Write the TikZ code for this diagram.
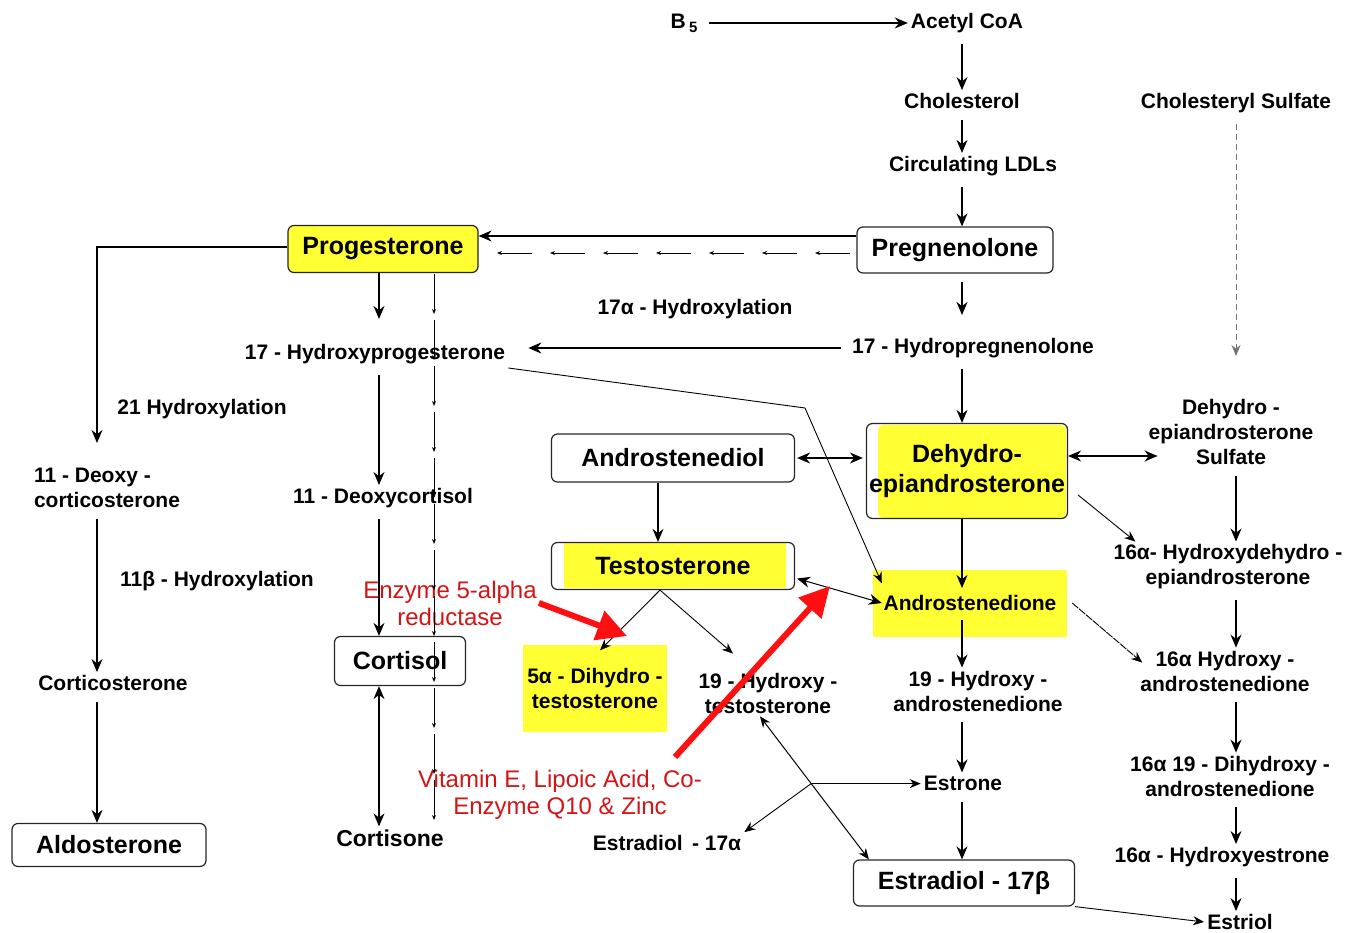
\documentclass[tikz,border=0pt]{standalone}
\usepackage{fontspec}
\setmainfont{Liberation Sans}
\usetikzlibrary{arrows.meta,calc,positioning}

\definecolor{hlyellow}{RGB}{255,255,51}
\definecolor{enzred}{RGB}{210,20,20}
\definecolor{arrred}{RGB}{255,15,15}

\tikzset{
  box/.style={draw=black!85, line width=1.2pt, rounded corners=6pt, inner sep=0pt,
    font=\bfseries\fontsize{25}{30}\selectfont, align=center},
  lbl/.style={font=\bfseries\fontsize{21}{25}\selectfont, inner sep=3pt, align=center},
  arr/.style={-{Stealth[length=13pt,width=11pt]}, line width=1.3pt, shorten <=8pt},
  dblarr/.style={{Stealth[length=13pt,width=11pt]}-{Stealth[length=13pt,width=11pt]}, line width=1.3pt},
  thinarr/.style={-{Stealth[length=11pt,width=9pt]}, line width=0.9pt},
  tinyarr/.style={-{Stealth[length=5pt,width=4pt]}, line width=0.9pt},
  redtxt/.style={text=enzred, font=\fontsize{24}{27}\selectfont, align=center, inner sep=2pt},
  redarr/.style={-{Triangle[length=30pt,width=30pt]}, draw=arrred, line width=6pt}
}

\begin{document}
\begin{tikzpicture}[x=1pt,y=-1pt]
\useasboundingbox (0,0) rectangle (1361,933);
\coordinate (col) at (962,0);
\coordinate (lcol) at (379,0);
\coordinate (fcol) at (97,0);
\coordinate (rcol) at (1236,0);

% yellow backgrounds of the partly filled boxes
\fill[hlyellow] (564,543) rectangle (786,588);
\fill[hlyellow, rounded corners=5pt] (878,425) rectangle (1066,518);

% top chain
\node[lbl] (b5) at (684,23) {B\,\raisebox{-4pt}{\fontsize{15}{15}\selectfont 5}};
\node[lbl] (acetyl) at (967,23) {Acetyl CoA};
\node[lbl] (chol) at (962,101) {Cholesterol};
\node[lbl] (ldl) at (973,166) {Circulating LDLs};
\node[box, minimum width=196pt, minimum height=46pt] (preg) at (955,250) {Pregnenolone};
\node[lbl] (cholsulf) at (1236,103) {Cholesteryl Sulfate};
\coordinate (sulfend) at (1236,356);

% progesterone branch
\node[box, fill=hlyellow, minimum width=190pt, minimum height=47pt] (prog) at (383,249) {Progesterone};
\node[lbl] (hydrox) at (695,309) {17α - Hydroxylation};
\node[lbl] (hpreg) at (973,348) {17 - Hydropregnenolone};
\node[lbl] (ohp) at (375,354) {17 - Hydroxyprogesterone};
\node[lbl] (h21) at (202,409) {21 Hydroxylation};
\node[lbl, align=left] (doc) at (107,488) {11 - Deoxy -\\corticosterone};
\node[lbl] (h11) at (217,581) {11β - Hydroxylation};
\node[lbl] (cortico) at (113,683) {Corticosterone};
\node[box, minimum width=194pt, minimum height=43pt] (aldo) at (109,845) {Aldosterone};
\node[lbl] (deoxycort) at (383,498) {11 - Deoxycortisol};
\node[box, minimum width=131pt, minimum height=49pt] (cortisol) at (400,661) {Cortisol};
\node[lbl, font=\bfseries\fontsize{23}{27}\selectfont] (cortisone) at (390,838) {Cortisone};

% androgens
\node[box, minimum width=243pt, minimum height=48pt] (adiol) at (673,458) {Androstenediol};
\node[box, minimum width=201pt, minimum height=95pt] (dhea) at (967,471) {Dehydro-\\epiandrosterone};
\node[lbl] (dheas) at (1231,432) {Dehydro -\\epiandrosterone\\Sulfate};
\node[box, minimum width=243pt, minimum height=47pt] (testo) at (673,566) {Testosterone};
\node[fill=hlyellow, inner sep=0pt, minimum width=194pt, minimum height=67pt,
  font=\bfseries\fontsize{21}{25}\selectfont] (andione) at (970,603) {Androstenedione};
\node[lbl, fill=hlyellow, minimum width=144pt, minimum height=87pt] (dht) at (595,688) {5α - Dihydro -\\testosterone};
\node[lbl] (ohtesto) at (768,693) {19 - Hydroxy -\\testosterone};
\node[lbl] (ohandione) at (978,691) {19 - Hydroxy -\\androstenedione};

% right column
\node[lbl] (ohdhea) at (1228,567) {16α- Hydroxydehydro -\\epiandrosterone};
\node[lbl] (ohandro) at (1225,671) {16α Hydroxy -\\androstenedione};
\node[lbl] (diohandro) at (1230,776) {16α 19 - Dihydroxy -\\androstenedione};
\node[lbl] (ohestrone) at (1222,857) {16α - Hydroxyestrone};
\node[lbl] (estriol) at (1240,922) {Estriol};

% estrogens
\node[lbl] (estrone) at (963,783) {Estrone};
\node[box, minimum width=221pt, minimum height=46pt] (estradiolb) at (964,883) {Estradiol - 17β};
\node[lbl] (estradiola) at (667,843) {Estradiol\, - 17α};

% red notes
\node[redtxt] (enzyme) at (450,603) {Enzyme 5-alpha\\reductase};
\node[redtxt] (vitamins) at (560,795) {Vitamin E, Lipoic Acid, Co-\\Enzyme Q10 \& Zinc};
\coordinate (enztip) at (627,636);
\coordinate (vitstart) at (675,757);
\coordinate (vittip) at (830,586);

% central chain
\draw[arr] (b5) -- (acetyl);
\draw[arr] (acetyl.south -| col) -- (chol.north -| col);
\draw[arr] (chol.south -| col) -- (ldl.north -| col);
\draw[arr] (ldl.south -| col) -- (preg.north -| col);
\draw[arr, shorten >=20pt] (preg.south -| col) -- (hpreg.north -| col);
\draw[arr] (hpreg.south -| col) -- (dhea.north -| col);
\draw[arr, shorten <=0pt, shorten >=15pt] (dhea.south -| col) -- (andione.center -| col);
\draw[arr, shorten <=17pt] (andione.center -| col) -- (ohandione.north -| col);
\draw[arr] (ohandione.south -| col) -- (estrone.north -| col);
\draw[arr] (estrone.south -| col) -- (estradiolb.north -| col);
\draw[draw=black!55, line width=1pt, dash pattern=on 6pt off 4pt,
  -{Stealth[length=11pt,width=9pt]}, shorten <=8pt]
  (cholsulf.south -| rcol) -- (sulfend);

% pregnenolone to progesterone
\draw[arr, shorten <=0pt] ([yshift=14pt]preg.west) -- ([yshift=13pt]prog.east);
\foreach \x in {850,797,...,490}
  \draw[tinyarr] (\x,253) -- ++(-35,0);
\draw[arr, shorten >=20pt] (hpreg.west) -- (hpreg.west -| ohp.east);

% progesterone descendants
\draw[arr, shorten <=0pt, shorten >=22pt] (prog.south -| lcol) -- (ohp.north -| lcol);
\foreach \y in {274,320,...,790}
  \draw[tinyarr] (434,\y) -- ++(0,40);
\draw[arr] (ohp.south -| lcol) -- (deoxycort.north -| lcol);
\draw[arr] (deoxycort.south -| lcol) -- (cortisol.north -| lcol);
\draw[dblarr] (cortisol.south -| lcol) -- (cortisone.north -| lcol);
\draw[arr, shorten <=0pt, shorten >=22pt] ([yshift=2pt]prog.west) -| (fcol |- doc.north);
\draw[arr] (doc.south -| fcol) -- (cortico.north -| fcol);
\draw[arr] (cortico.south -| fcol) -- (aldo.north -| fcol);
\draw[thinarr] ([yshift=-14pt]ohp.east) -- (805,408) -- ([xshift=9pt,yshift=-14pt]andione.north west);

% androgen links
\draw[dblarr, shorten <=2pt, shorten >=3pt] (adiol.east) -- (adiol.east -| dhea.west);
\draw[arr, shorten <=0pt] (adiol.south -| 658,0) -- (testo.north -| 658,0);
\draw[dblarr, line width=1pt, shorten <=2pt] ([yshift=-12pt]testo.east) -- ([xshift=9pt]andione.west);
\draw[thinarr] ([xshift=-13pt]testo.south) -- ([xshift=5pt,yshift=-6pt]dht.north);
\draw[thinarr] ([xshift=-13pt]testo.south) -- ([xshift=-35pt,yshift=16pt]ohtesto.north);
\draw[dblarr, shorten >=-12pt] ([yshift=15pt]dhea.east) -- ([yshift=15pt]dhea.east -| dheas.west);
\draw[arr] (dheas.south -| rcol) -- (ohdhea.north -| rcol);
\draw[thinarr] ([xshift=10pt,yshift=-24pt]dhea.east) -- ([xshift=25pt]ohdhea.north west);
\draw[arr] (ohdhea.south -| rcol) -- (ohandro.north -| rcol);
\draw[thinarr, dash pattern=on 8pt off 1pt] ([xshift=5pt]andione.east) -- ([xshift=5pt,yshift=-15pt]ohandro.north west);
\draw[arr] (ohandro.south -| rcol) -- (diohandro.north -| rcol);
\draw[arr] (diohandro.south -| rcol) -- (ohestrone.north -| rcol);
\draw[arr] (ohestrone.south -| rcol) -- (estriol.north -| rcol);
\draw[thinarr] (estradiolb.south east) -- (estriol.west);

% estrogen crossing
\coordinate (ohtip) at ([xshift=-8pt]ohtesto.south);
\coordinate (ebtip) at ([xshift=16pt]estradiolb.north west);
\draw[{Stealth[length=11pt,width=9pt]}-{Stealth[length=11pt,width=9pt]}, line width=1pt] (ohtip) -- (ebtip);
\coordinate (junc) at ($(ohtip)!0.47!(ebtip)$);
\draw[thinarr, line width=1.2pt] (junc) -- (junc -| estrone.west);
\draw[thinarr] (junc) -- (estradiola.north east);

% red arrows
\draw[redarr] (enzyme.east) -- (enztip);
\draw[redarr] (vitstart) -- (vittip);
\end{tikzpicture}
\end{document}
